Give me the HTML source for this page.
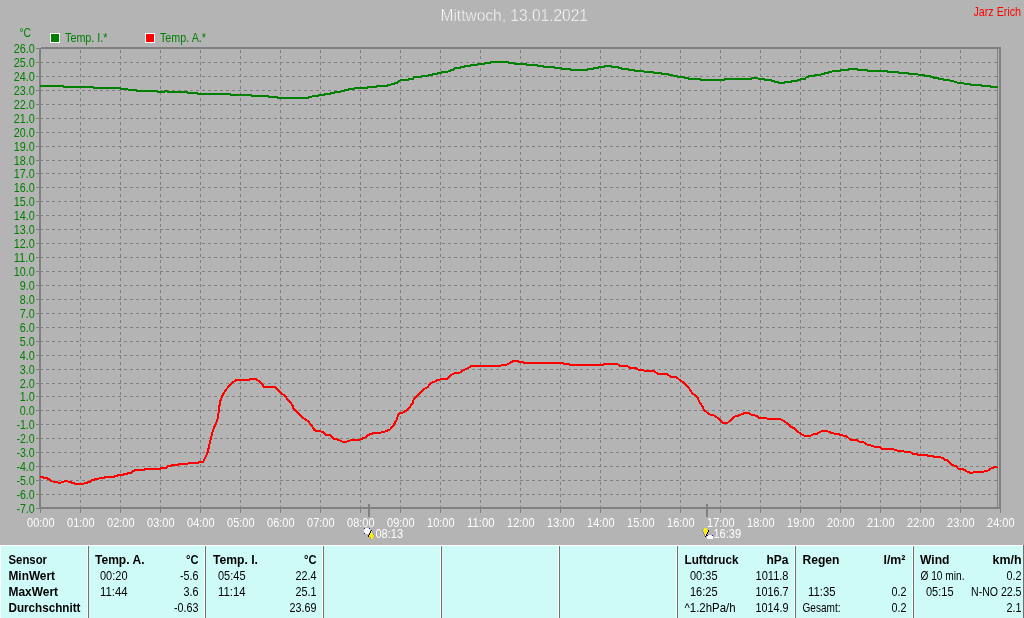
<!DOCTYPE html>
<html lang="de"><head><meta charset="utf-8"><title>Mittwoch, 13.01.2021</title>
<style>
html,body{margin:0;padding:0;background:#b4b4b4;overflow:hidden}
svg{display:block;position:absolute;left:0;top:0}
text{font-family:"Liberation Sans",Arial,sans-serif;font-size:13px}
.b{font-weight:bold}
.g{fill:#008000}.w{fill:#fff}.k{fill:#000}.r{fill:#ff0000}
</style></head><body>
<svg width="1024" height="618" viewBox="0 0 1024 618">
<rect x="0" y="0" width="1024" height="618" fill="#b4b4b4"/>
<g shape-rendering="crispEdges" stroke="#808080" stroke-width="1" fill="none">
<line x1="40" y1="62.5" x2="997" y2="62.5" stroke-dasharray="3 3"/>
<line x1="40" y1="76.5" x2="997" y2="76.5" stroke-dasharray="3 3"/>
<line x1="40" y1="90.5" x2="997" y2="90.5" stroke-dasharray="3 3"/>
<line x1="40" y1="104.5" x2="997" y2="104.5" stroke-dasharray="3 3"/>
<line x1="40" y1="118.5" x2="997" y2="118.5" stroke-dasharray="3 3"/>
<line x1="40" y1="132.5" x2="997" y2="132.5" stroke-dasharray="3 3"/>
<line x1="40" y1="146.5" x2="997" y2="146.5" stroke-dasharray="3 3"/>
<line x1="40" y1="160.5" x2="997" y2="160.5" stroke-dasharray="3 3"/>
<line x1="40" y1="173.5" x2="997" y2="173.5" stroke-dasharray="3 3"/>
<line x1="40" y1="187.5" x2="997" y2="187.5" stroke-dasharray="3 3"/>
<line x1="40" y1="201.5" x2="997" y2="201.5" stroke-dasharray="3 3"/>
<line x1="40" y1="215.5" x2="997" y2="215.5" stroke-dasharray="3 3"/>
<line x1="40" y1="229.5" x2="997" y2="229.5" stroke-dasharray="3 3"/>
<line x1="40" y1="243.5" x2="997" y2="243.5" stroke-dasharray="3 3"/>
<line x1="40" y1="257.5" x2="997" y2="257.5" stroke-dasharray="3 3"/>
<line x1="40" y1="271.5" x2="997" y2="271.5" stroke-dasharray="3 3"/>
<line x1="40" y1="285.5" x2="997" y2="285.5" stroke-dasharray="3 3"/>
<line x1="40" y1="299.5" x2="997" y2="299.5" stroke-dasharray="3 3"/>
<line x1="40" y1="313.5" x2="997" y2="313.5" stroke-dasharray="3 3"/>
<line x1="40" y1="327.5" x2="997" y2="327.5" stroke-dasharray="3 3"/>
<line x1="40" y1="341.5" x2="997" y2="341.5" stroke-dasharray="3 3"/>
<line x1="40" y1="355.5" x2="997" y2="355.5" stroke-dasharray="3 3"/>
<line x1="40" y1="369.5" x2="997" y2="369.5" stroke-dasharray="3 3"/>
<line x1="40" y1="383.5" x2="997" y2="383.5" stroke-dasharray="3 3"/>
<line x1="40" y1="396.5" x2="997" y2="396.5" stroke-dasharray="3 3"/>
<line x1="40" y1="410.5" x2="997" y2="410.5" stroke-dasharray="3 3"/>
<line x1="40" y1="424.5" x2="997" y2="424.5" stroke-dasharray="3 3"/>
<line x1="40" y1="438.5" x2="997" y2="438.5" stroke-dasharray="3 3"/>
<line x1="40" y1="452.5" x2="997" y2="452.5" stroke-dasharray="3 3"/>
<line x1="40" y1="466.5" x2="997" y2="466.5" stroke-dasharray="3 3"/>
<line x1="40" y1="480.5" x2="997" y2="480.5" stroke-dasharray="3 3"/>
<line x1="40" y1="494.5" x2="997" y2="494.5" stroke-dasharray="3 3"/>
<line x1="80.5" y1="50" x2="80.5" y2="507" stroke-dasharray="3 3"/>
<line x1="120.5" y1="50" x2="120.5" y2="507" stroke-dasharray="3 3"/>
<line x1="160.5" y1="50" x2="160.5" y2="507" stroke-dasharray="3 3"/>
<line x1="200.5" y1="50" x2="200.5" y2="507" stroke-dasharray="3 3"/>
<line x1="240.5" y1="50" x2="240.5" y2="507" stroke-dasharray="3 3"/>
<line x1="280.5" y1="50" x2="280.5" y2="507" stroke-dasharray="3 3"/>
<line x1="320.5" y1="50" x2="320.5" y2="507" stroke-dasharray="3 3"/>
<line x1="360.5" y1="50" x2="360.5" y2="507" stroke-dasharray="3 3"/>
<line x1="400.5" y1="50" x2="400.5" y2="507" stroke-dasharray="3 3"/>
<line x1="440.5" y1="50" x2="440.5" y2="507" stroke-dasharray="3 3"/>
<line x1="480.5" y1="50" x2="480.5" y2="507" stroke-dasharray="3 3"/>
<line x1="520.5" y1="50" x2="520.5" y2="507" stroke-dasharray="3 3"/>
<line x1="560.5" y1="50" x2="560.5" y2="507" stroke-dasharray="3 3"/>
<line x1="600.5" y1="50" x2="600.5" y2="507" stroke-dasharray="3 3"/>
<line x1="640.5" y1="50" x2="640.5" y2="507" stroke-dasharray="3 3"/>
<line x1="680.5" y1="50" x2="680.5" y2="507" stroke-dasharray="3 3"/>
<line x1="720.5" y1="50" x2="720.5" y2="507" stroke-dasharray="3 3"/>
<line x1="760.5" y1="50" x2="760.5" y2="507" stroke-dasharray="3 3"/>
<line x1="800.5" y1="50" x2="800.5" y2="507" stroke-dasharray="3 3"/>
<line x1="840.5" y1="50" x2="840.5" y2="507" stroke-dasharray="3 3"/>
<line x1="880.5" y1="50" x2="880.5" y2="507" stroke-dasharray="3 3"/>
<line x1="920.5" y1="50" x2="920.5" y2="507" stroke-dasharray="3 3"/>
<line x1="960.5" y1="50" x2="960.5" y2="507" stroke-dasharray="3 3"/>
<line x1="36" y1="48.5" x2="40" y2="48.5"/>
<line x1="36" y1="62.5" x2="40" y2="62.5"/>
<line x1="36" y1="76.5" x2="40" y2="76.5"/>
<line x1="36" y1="90.5" x2="40" y2="90.5"/>
<line x1="36" y1="104.5" x2="40" y2="104.5"/>
<line x1="36" y1="118.5" x2="40" y2="118.5"/>
<line x1="36" y1="132.5" x2="40" y2="132.5"/>
<line x1="36" y1="146.5" x2="40" y2="146.5"/>
<line x1="36" y1="160.5" x2="40" y2="160.5"/>
<line x1="36" y1="173.5" x2="40" y2="173.5"/>
<line x1="36" y1="187.5" x2="40" y2="187.5"/>
<line x1="36" y1="201.5" x2="40" y2="201.5"/>
<line x1="36" y1="215.5" x2="40" y2="215.5"/>
<line x1="36" y1="229.5" x2="40" y2="229.5"/>
<line x1="36" y1="243.5" x2="40" y2="243.5"/>
<line x1="36" y1="257.5" x2="40" y2="257.5"/>
<line x1="36" y1="271.5" x2="40" y2="271.5"/>
<line x1="36" y1="285.5" x2="40" y2="285.5"/>
<line x1="36" y1="299.5" x2="40" y2="299.5"/>
<line x1="36" y1="313.5" x2="40" y2="313.5"/>
<line x1="36" y1="327.5" x2="40" y2="327.5"/>
<line x1="36" y1="341.5" x2="40" y2="341.5"/>
<line x1="36" y1="355.5" x2="40" y2="355.5"/>
<line x1="36" y1="369.5" x2="40" y2="369.5"/>
<line x1="36" y1="383.5" x2="40" y2="383.5"/>
<line x1="36" y1="396.5" x2="40" y2="396.5"/>
<line x1="36" y1="410.5" x2="40" y2="410.5"/>
<line x1="36" y1="424.5" x2="40" y2="424.5"/>
<line x1="36" y1="438.5" x2="40" y2="438.5"/>
<line x1="36" y1="452.5" x2="40" y2="452.5"/>
<line x1="36" y1="466.5" x2="40" y2="466.5"/>
<line x1="36" y1="480.5" x2="40" y2="480.5"/>
<line x1="36" y1="494.5" x2="40" y2="494.5"/>
<line x1="36" y1="508.5" x2="40" y2="508.5"/>
<line x1="40.5" y1="508" x2="40.5" y2="513"/>
<line x1="80.5" y1="508" x2="80.5" y2="513"/>
<line x1="120.5" y1="508" x2="120.5" y2="513"/>
<line x1="160.5" y1="508" x2="160.5" y2="513"/>
<line x1="200.5" y1="508" x2="200.5" y2="513"/>
<line x1="240.5" y1="508" x2="240.5" y2="513"/>
<line x1="280.5" y1="508" x2="280.5" y2="513"/>
<line x1="320.5" y1="508" x2="320.5" y2="513"/>
<line x1="360.5" y1="508" x2="360.5" y2="513"/>
<line x1="400.5" y1="508" x2="400.5" y2="513"/>
<line x1="440.5" y1="508" x2="440.5" y2="513"/>
<line x1="480.5" y1="508" x2="480.5" y2="513"/>
<line x1="520.5" y1="508" x2="520.5" y2="513"/>
<line x1="560.5" y1="508" x2="560.5" y2="513"/>
<line x1="600.5" y1="508" x2="600.5" y2="513"/>
<line x1="640.5" y1="508" x2="640.5" y2="513"/>
<line x1="680.5" y1="508" x2="680.5" y2="513"/>
<line x1="720.5" y1="508" x2="720.5" y2="513"/>
<line x1="760.5" y1="508" x2="760.5" y2="513"/>
<line x1="800.5" y1="508" x2="800.5" y2="513"/>
<line x1="840.5" y1="508" x2="840.5" y2="513"/>
<line x1="880.5" y1="508" x2="880.5" y2="513"/>
<line x1="920.5" y1="508" x2="920.5" y2="513"/>
<line x1="960.5" y1="508" x2="960.5" y2="513"/>
<line x1="1000.5" y1="508" x2="1000.5" y2="513"/>
<line x1="997.5" y1="49" x2="997.5" y2="507"/>
</g>
<g shape-rendering="crispEdges" fill="#808080">
<rect x="39" y="48" width="2" height="461"/>
<rect x="41" y="47" width="960" height="2"/>
<rect x="39" y="507" width="962" height="2"/>
<rect x="999" y="47" width="2" height="462"/>
<rect x="368" y="504" width="2" height="13"/>
<rect x="706" y="504" width="2" height="13"/>
</g>
<polyline shape-rendering="crispEdges" fill="none" stroke="#008000" stroke-width="2" stroke-linejoin="round" points="40.0,86.0 63.0,86.0 64.0,87.0 93.0,87.0 94.0,87.8 120.0,87.8 121.0,88.7 127.0,88.7 128.0,89.6 136.0,89.6 137.0,90.9 157.0,90.9 158.0,91.8 164.0,91.8 165.0,91.0 167.0,91.0 168.0,91.8 187.0,91.8 188.0,92.8 197.0,92.8 198.0,93.8 229.7,93.8 230.7,94.9 250.8,94.9 251.8,95.9 268.0,95.9 269.0,96.8 276.6,96.8 277.6,97.9 307.8,97.9 308.8,96.8 311.7,96.8 312.7,95.9 318.0,95.9 319.0,94.9 324.2,94.9 325.2,94.0 329.7,94.0 330.7,92.9 334.4,92.9 335.4,92.0 340.6,92.0 341.6,90.9 344.5,90.9 345.5,89.9 348.4,89.9 349.4,89.0 353.9,89.0 354.9,87.9 367.0,87.9 368.0,87.0 376.4,87.0 377.4,86.0 387.3,86.0 388.3,85.0 390.5,85.0 391.5,84.0 393.6,84.0 394.6,83.0 396.7,83.0 397.9,82.0 399.5,81.0 400.8,80.0 408.4,80.0 409.4,79.0 413.0,79.0 414.0,77.1 421.0,77.1 422.0,76.0 428.0,76.0 429.0,75.0 432.0,75.0 433.0,74.0 436.6,74.0 437.6,73.0 441.0,73.0 442.0,72.0 447.5,72.0 448.5,71.0 450.6,71.0 451.6,69.6 453.8,69.6 454.8,68.0 460.0,68.0 461.0,67.1 464.0,67.1 465.0,66.0 470.0,66.0 471.0,65.0 477.0,65.0 478.0,64.0 484.0,64.0 485.0,63.0 490.5,63.0 491.5,61.9 507.7,61.9 508.7,63.0 514.0,63.0 515.0,64.0 526.0,64.0 527.0,65.0 537.0,65.0 538.0,65.9 542.7,65.9 543.7,67.0 553.6,67.0 554.6,67.9 560.6,67.9 561.6,68.8 570.0,68.8 571.0,69.9 587.0,69.9 588.0,69.0 593.4,69.0 594.4,67.9 598.0,67.9 599.0,67.0 604.4,67.0 605.4,65.9 610.6,65.9 611.6,66.8 617.7,66.8 618.7,67.9 620.8,67.9 621.8,68.8 627.8,68.8 628.8,69.9 634.0,69.9 635.0,70.9 643.4,70.9 644.4,72.0 652.8,72.0 653.8,72.9 660.6,72.9 661.6,73.8 667.7,73.8 668.7,74.8 672.3,74.8 673.3,75.7 677.0,75.7 678.0,77.0 684.0,77.0 685.0,77.9 687.8,77.9 688.8,78.8 699.5,78.8 700.5,79.9 723.8,79.9 724.8,78.8 751.0,78.8 752.0,77.8 757.3,77.8 758.3,78.8 763.6,78.8 764.6,79.8 770.6,79.8 771.6,80.9 773.8,80.9 774.8,82.0 777.7,82.0 778.7,82.9 784.0,82.9 785.0,82.0 791.0,82.0 792.0,80.9 797.0,80.9 798.0,79.9 800.3,79.9 801.3,78.8 805.0,78.8 806.0,77.4 808.0,77.4 809.0,75.9 814.4,75.9 815.4,74.9 820.6,74.9 821.6,73.8 823.8,73.8 824.8,72.9 827.7,72.9 828.7,72.0 831.6,72.0 832.6,70.9 840.0,70.9 841.0,69.9 847.8,69.9 848.8,69.0 857.2,69.0 858.2,69.9 867.3,69.9 868.3,70.9 886.9,70.9 887.9,71.8 897.8,71.8 898.8,72.9 908.0,72.9 909.0,73.8 917.3,73.8 918.3,74.8 923.6,74.8 924.6,75.9 929.8,75.9 930.8,76.8 933.0,76.8 934.0,77.9 937.7,77.9 938.7,78.8 943.0,78.8 944.0,79.9 949.4,79.9 950.4,80.9 953.3,80.9 954.3,81.8 956.4,81.8 957.4,82.9 963.4,82.9 964.4,83.8 969.7,83.8 970.7,84.9 980.6,84.9 981.6,85.9 990.0,85.9 991.0,87.0 997.8,87.0"/>
<polyline shape-rendering="crispEdges" fill="none" stroke="#ff0000" stroke-width="2" stroke-linejoin="round" points="40.0,476.9 43.0,476.9 44.0,477.7 47.0,477.7 48.0,479.0 49.4,479.0 50.5,480.2 52.0,481.5 56.4,481.6 57.5,482.5 61.0,482.5 62.0,481.5 64.2,481.5 65.2,480.9 67.3,480.9 68.3,481.6 70.5,481.6 71.5,482.7 73.6,482.7 74.6,483.8 83.8,483.8 84.8,482.7 87.7,482.7 88.7,481.6 90.8,481.6 92.0,480.3 94.0,480.3 95.3,479.0 98.6,479.0 99.8,477.7 104.0,477.7 105.0,476.7 114.2,476.7 115.2,475.8 117.3,475.8 118.3,474.7 123.6,474.7 124.6,473.8 127.5,473.8 128.5,472.7 131.4,472.7 132.5,471.4 133.8,471.4 135.0,469.7 144.0,469.7 145.0,468.8 160.3,468.8 161.3,467.8 166.6,467.8 168.0,466.2 170.5,466.2 172.0,464.7 178.3,464.7 179.3,463.8 187.7,463.8 188.7,462.8 197.8,462.8 198.8,461.9 203.0,461.8 204.9,458.3 207.2,453.9 208.7,447.7 210.7,438.9 213.0,430.2 215.5,424.4 217.5,419.5 218.8,410.8 220.0,402.0 222.9,394.3 226.2,389.4 231.0,384.0 235.0,380.7 237.9,379.7 249.5,379.7 250.9,378.7 255.3,378.7 258.3,380.7 262.1,384.0 263.7,386.7 274.8,387.1 276.7,388.4 281.6,393.7 284.5,395.6 288.3,400.1 292.8,405.5 293.2,408.4 299.0,414.3 303.9,418.5 307.8,420.9 311.7,425.9 314.2,429.8 316.5,431.0 320.5,431.2 323.8,432.5 326.2,435.0 330.2,435.4 333.5,438.7 337.5,439.5 342.4,441.6 346.4,441.6 350.5,440.3 352.9,439.5 360.2,439.5 365.0,437.4 369.9,434.1 374.7,433.0 379.6,432.8 384.4,431.7 390.1,429.6 394.1,424.4 396.6,419.6 398.2,414.7 399.8,412.8 403.0,412.5 407.1,410.2 412.8,403.1 413.6,399.4 416.0,397.2 420.0,392.9 424.1,388.8 427.3,387.5 430.5,383.2 434.6,381.6 437.8,379.9 441.9,379.1 447.2,378.8 450.8,375.1 454.8,373.0 459.7,372.7 462.9,370.6 466.2,368.9 469.4,367.3 471.2,365.8 500.6,365.8 502.2,364.8 506.9,364.7 509.2,363.4 512.3,361.6 514.7,360.8 517.0,360.8 518.6,361.7 522.5,361.9 524.0,362.8 562.3,362.8 563.9,363.8 568.6,363.9 570.2,364.8 603.0,364.8 604.5,363.9 617.0,363.9 618.6,364.8 619.7,365.7 627.0,365.9 629.4,367.5 635.9,368.1 638.3,369.7 643.2,370.2 644.8,371.0 652.9,371.0 655.3,371.8 657.7,373.8 666.6,373.9 670.7,376.7 676.0,376.9 679.6,379.9 683.6,382.4 687.7,386.4 692.5,393.4 694.9,395.3 697.0,396.6 699.8,402.6 702.5,406.6 703.8,409.9 707.9,413.1 710.3,414.7 714.4,415.5 717.6,418.0 722.4,422.8 727.3,423.0 730.5,420.4 733.8,416.8 737.0,416.0 740.2,415.0 744.3,413.1 748.3,412.9 751.6,414.7 756.4,415.9 758.9,417.6 766.2,418.1 767.8,419.1 780.0,419.1 783.4,420.6 787.3,423.4 791.2,426.9 795.2,428.9 798.3,432.0 802.2,434.7 805.3,435.9 810.0,435.9 813.1,434.4 817.0,433.8 820.2,431.7 823.3,430.9 827.2,431.1 831.1,432.8 835.0,433.8 838.9,434.1 841.2,435.3 845.9,435.9 850.6,439.7 856.9,439.8 859.2,441.7 863.1,441.9 866.2,444.2 870.2,445.3 874.0,446.6 879.5,446.9 881.9,448.8 892.8,449.1 897.5,450.6 903.6,451.1 904.6,451.9 910.2,452.0 912.7,453.9 916.8,454.1 918.3,454.9 926.9,455.0 928.4,455.9 932.5,456.1 934.0,456.9 940.1,457.0 941.6,457.9 943.2,458.1 945.2,460.0 947.2,460.2 949.8,462.7 952.3,465.2 955.9,465.9 957.9,468.6 963.0,468.9 966.0,471.1 970.1,472.7 972.6,472.7 974.6,471.8 983.3,471.7 985.3,470.9 987.9,470.6 989.4,469.6 991.9,468.1 994.5,467.1 997.5,467.0"/>
<text x="440.5" y="21.0" class="w" textLength="147.5" lengthAdjust="spacingAndGlyphs" style="font-size:17px" stroke="#b4b4b4" stroke-width="0.45">Mittwoch, 13.01.2021</text>
<text x="973.5" y="16.0" class="r" textLength="47.5" lengthAdjust="spacingAndGlyphs">Jarz Erich</text>
<text x="19.5" y="37.0" class="g" textLength="11.5" lengthAdjust="spacingAndGlyphs">°C</text>
<g shape-rendering="crispEdges">
<rect x="50" y="33" width="10" height="10" fill="#fff"/><rect x="51" y="34" width="8" height="8" fill="#008000"/>
<rect x="145" y="33" width="10" height="10" fill="#fff"/><rect x="146" y="34" width="8" height="8" fill="#ff0000"/>
</g>
<text x="65.0" y="42.0" class="g" textLength="42.5" lengthAdjust="spacingAndGlyphs">Temp. I.*</text>
<text x="160.0" y="42.0" class="g" textLength="46.0" lengthAdjust="spacingAndGlyphs">Temp. A.*</text>
<text x="34.7" y="53.0" class="g" text-anchor="end" textLength="21.0" lengthAdjust="spacingAndGlyphs">26.0</text>
<text x="34.7" y="67.0" class="g" text-anchor="end" textLength="21.0" lengthAdjust="spacingAndGlyphs">25.0</text>
<text x="34.7" y="81.0" class="g" text-anchor="end" textLength="21.0" lengthAdjust="spacingAndGlyphs">24.0</text>
<text x="34.7" y="95.0" class="g" text-anchor="end" textLength="21.0" lengthAdjust="spacingAndGlyphs">23.0</text>
<text x="34.7" y="109.0" class="g" text-anchor="end" textLength="21.0" lengthAdjust="spacingAndGlyphs">22.0</text>
<text x="34.7" y="123.0" class="g" text-anchor="end" textLength="21.0" lengthAdjust="spacingAndGlyphs">21.0</text>
<text x="34.7" y="137.0" class="g" text-anchor="end" textLength="21.0" lengthAdjust="spacingAndGlyphs">20.0</text>
<text x="34.7" y="151.0" class="g" text-anchor="end" textLength="21.0" lengthAdjust="spacingAndGlyphs">19.0</text>
<text x="34.7" y="165.0" class="g" text-anchor="end" textLength="21.0" lengthAdjust="spacingAndGlyphs">18.0</text>
<text x="34.7" y="178.0" class="g" text-anchor="end" textLength="21.0" lengthAdjust="spacingAndGlyphs">17.0</text>
<text x="34.7" y="192.0" class="g" text-anchor="end" textLength="21.0" lengthAdjust="spacingAndGlyphs">16.0</text>
<text x="34.7" y="206.0" class="g" text-anchor="end" textLength="21.0" lengthAdjust="spacingAndGlyphs">15.0</text>
<text x="34.7" y="220.0" class="g" text-anchor="end" textLength="21.0" lengthAdjust="spacingAndGlyphs">14.0</text>
<text x="34.7" y="234.0" class="g" text-anchor="end" textLength="21.0" lengthAdjust="spacingAndGlyphs">13.0</text>
<text x="34.7" y="248.0" class="g" text-anchor="end" textLength="21.0" lengthAdjust="spacingAndGlyphs">12.0</text>
<text x="34.7" y="262.0" class="g" text-anchor="end" textLength="21.0" lengthAdjust="spacingAndGlyphs">11.0</text>
<text x="34.7" y="276.0" class="g" text-anchor="end" textLength="21.0" lengthAdjust="spacingAndGlyphs">10.0</text>
<text x="34.7" y="290.0" class="g" text-anchor="end" textLength="15.0" lengthAdjust="spacingAndGlyphs">9.0</text>
<text x="34.7" y="304.0" class="g" text-anchor="end" textLength="15.0" lengthAdjust="spacingAndGlyphs">8.0</text>
<text x="34.7" y="318.0" class="g" text-anchor="end" textLength="15.0" lengthAdjust="spacingAndGlyphs">7.0</text>
<text x="34.7" y="332.0" class="g" text-anchor="end" textLength="15.0" lengthAdjust="spacingAndGlyphs">6.0</text>
<text x="34.7" y="346.0" class="g" text-anchor="end" textLength="15.0" lengthAdjust="spacingAndGlyphs">5.0</text>
<text x="34.7" y="360.0" class="g" text-anchor="end" textLength="15.0" lengthAdjust="spacingAndGlyphs">4.0</text>
<text x="34.7" y="374.0" class="g" text-anchor="end" textLength="15.0" lengthAdjust="spacingAndGlyphs">3.0</text>
<text x="34.7" y="388.0" class="g" text-anchor="end" textLength="15.0" lengthAdjust="spacingAndGlyphs">2.0</text>
<text x="34.7" y="401.0" class="g" text-anchor="end" textLength="15.0" lengthAdjust="spacingAndGlyphs">1.0</text>
<text x="34.7" y="415.0" class="g" text-anchor="end" textLength="15.0" lengthAdjust="spacingAndGlyphs">0.0</text>
<text x="34.7" y="429.0" class="g" text-anchor="end" textLength="18.3" lengthAdjust="spacingAndGlyphs">-1.0</text>
<text x="34.7" y="443.0" class="g" text-anchor="end" textLength="18.3" lengthAdjust="spacingAndGlyphs">-2.0</text>
<text x="34.7" y="457.0" class="g" text-anchor="end" textLength="18.3" lengthAdjust="spacingAndGlyphs">-3.0</text>
<text x="34.7" y="471.0" class="g" text-anchor="end" textLength="18.3" lengthAdjust="spacingAndGlyphs">-4.0</text>
<text x="34.7" y="485.0" class="g" text-anchor="end" textLength="18.3" lengthAdjust="spacingAndGlyphs">-5.0</text>
<text x="34.7" y="499.0" class="g" text-anchor="end" textLength="18.3" lengthAdjust="spacingAndGlyphs">-6.0</text>
<text x="34.7" y="513.0" class="g" text-anchor="end" textLength="18.3" lengthAdjust="spacingAndGlyphs">-7.0</text>
<text x="40.8" y="527.0" class="w" text-anchor="middle" textLength="27.5" lengthAdjust="spacingAndGlyphs">00:00</text>
<text x="80.8" y="527.0" class="w" text-anchor="middle" textLength="27.5" lengthAdjust="spacingAndGlyphs">01:00</text>
<text x="120.8" y="527.0" class="w" text-anchor="middle" textLength="27.5" lengthAdjust="spacingAndGlyphs">02:00</text>
<text x="160.8" y="527.0" class="w" text-anchor="middle" textLength="27.5" lengthAdjust="spacingAndGlyphs">03:00</text>
<text x="200.8" y="527.0" class="w" text-anchor="middle" textLength="27.5" lengthAdjust="spacingAndGlyphs">04:00</text>
<text x="240.8" y="527.0" class="w" text-anchor="middle" textLength="27.5" lengthAdjust="spacingAndGlyphs">05:00</text>
<text x="280.8" y="527.0" class="w" text-anchor="middle" textLength="27.5" lengthAdjust="spacingAndGlyphs">06:00</text>
<text x="320.8" y="527.0" class="w" text-anchor="middle" textLength="27.5" lengthAdjust="spacingAndGlyphs">07:00</text>
<text x="360.8" y="527.0" class="w" text-anchor="middle" textLength="27.5" lengthAdjust="spacingAndGlyphs">08:00</text>
<text x="400.8" y="527.0" class="w" text-anchor="middle" textLength="27.5" lengthAdjust="spacingAndGlyphs">09:00</text>
<text x="440.8" y="527.0" class="w" text-anchor="middle" textLength="27.5" lengthAdjust="spacingAndGlyphs">10:00</text>
<text x="480.8" y="527.0" class="w" text-anchor="middle" textLength="27.5" lengthAdjust="spacingAndGlyphs">11:00</text>
<text x="520.8" y="527.0" class="w" text-anchor="middle" textLength="27.5" lengthAdjust="spacingAndGlyphs">12:00</text>
<text x="560.8" y="527.0" class="w" text-anchor="middle" textLength="27.5" lengthAdjust="spacingAndGlyphs">13:00</text>
<text x="600.8" y="527.0" class="w" text-anchor="middle" textLength="27.5" lengthAdjust="spacingAndGlyphs">14:00</text>
<text x="640.8" y="527.0" class="w" text-anchor="middle" textLength="27.5" lengthAdjust="spacingAndGlyphs">15:00</text>
<text x="680.8" y="527.0" class="w" text-anchor="middle" textLength="27.5" lengthAdjust="spacingAndGlyphs">16:00</text>
<text x="720.8" y="527.0" class="w" text-anchor="middle" textLength="27.5" lengthAdjust="spacingAndGlyphs">17:00</text>
<text x="760.8" y="527.0" class="w" text-anchor="middle" textLength="27.5" lengthAdjust="spacingAndGlyphs">18:00</text>
<text x="800.8" y="527.0" class="w" text-anchor="middle" textLength="27.5" lengthAdjust="spacingAndGlyphs">19:00</text>
<text x="840.8" y="527.0" class="w" text-anchor="middle" textLength="27.5" lengthAdjust="spacingAndGlyphs">20:00</text>
<text x="880.8" y="527.0" class="w" text-anchor="middle" textLength="27.5" lengthAdjust="spacingAndGlyphs">21:00</text>
<text x="920.8" y="527.0" class="w" text-anchor="middle" textLength="27.5" lengthAdjust="spacingAndGlyphs">22:00</text>
<text x="960.8" y="527.0" class="w" text-anchor="middle" textLength="27.5" lengthAdjust="spacingAndGlyphs">23:00</text>
<text x="1000.8" y="527.0" class="w" text-anchor="middle" textLength="27.5" lengthAdjust="spacingAndGlyphs">24:00</text>
<text x="375.5" y="538.0" class="w" textLength="27.5" lengthAdjust="spacingAndGlyphs">08:13</text>
<text x="713.5" y="538.0" class="w" textLength="27.5" lengthAdjust="spacingAndGlyphs">16:39</text>
<g shape-rendering="crispEdges">
<rect x="364" y="528" width="6" height="6" fill="#2828a8"/><rect x="365" y="528" width="4" height="6" fill="#e0e0fa"/><rect x="364" y="529" width="6" height="4" fill="#e0e0fa"/><rect x="365" y="529" width="4" height="4" fill="#fff"/><rect x="366" y="528" width="2" height="6" fill="#fff"/><rect x="364" y="530" width="6" height="2" fill="#fff"/>
<path d="M371 531h1v2h1v2h1v2h-1v2h-3v-2h-1v-2h1v-2h1z" fill="#ffee00"/>
<path d="M371 530h1v1h-1zM370 531h1v2h-1zM369 533h1v2h-1zM368 535h1v2h-1z" fill="#000"/>
<path d="M372 531h1v2h-1zM373 533h1v2h-1zM374 535h1v2h-1z" fill="#9090e0"/><rect x="370" y="537" width="1" height="2" fill="#c0b000"/>
<path d="M704 528h3v2h2v2h-1v2h-1v2h-1v1h-1v-1h-1v-2h-1v-2h-1v-2h2z" fill="#ffee00"/>
<path d="M708 530h1v2h-1zM707 532h1v2h-1zM706 534h1v2h-1zM705 536h1v1h-1z" fill="#000"/>
<path d="M702 530h1v2h-1zM703 532h1v2h-1zM704 534h1v2h-1z" fill="#8080e0"/>
<rect x="707" y="535" width="6" height="4" fill="#2828a8"/><rect x="708" y="535" width="4" height="4" fill="#d8d8f8"/><rect x="709" y="535" width="2" height="4" fill="#fff"/><rect x="707" y="536" width="6" height="3" fill="#fff"/>
</g>
<g shape-rendering="crispEdges">
<rect x="0" y="545" width="1024" height="73" fill="#fff"/>
<rect x="1" y="546" width="1022" height="72" fill="#cefaf7"/>
<rect x="1023" y="545" width="1" height="73" fill="#707070"/>
<rect x="88" y="546" width="1" height="72" fill="#707070"/>
<rect x="87" y="546" width="1" height="72" fill="#ffffff"/>
<rect x="205" y="546" width="1" height="72" fill="#707070"/>
<rect x="204" y="546" width="1" height="72" fill="#ffffff"/>
<rect x="323" y="546" width="1" height="72" fill="#707070"/>
<rect x="322" y="546" width="1" height="72" fill="#ffffff"/>
<rect x="441" y="546" width="1" height="72" fill="#707070"/>
<rect x="440" y="546" width="1" height="72" fill="#ffffff"/>
<rect x="559" y="546" width="1" height="72" fill="#707070"/>
<rect x="558" y="546" width="1" height="72" fill="#ffffff"/>
<rect x="677" y="546" width="1" height="72" fill="#707070"/>
<rect x="676" y="546" width="1" height="72" fill="#ffffff"/>
<rect x="795" y="546" width="1" height="72" fill="#707070"/>
<rect x="794" y="546" width="1" height="72" fill="#ffffff"/>
<rect x="913" y="546" width="1" height="72" fill="#707070"/>
<rect x="912" y="546" width="1" height="72" fill="#ffffff"/>
</g>
<text x="8.5" y="564.0" class="k b" textLength="38.5" lengthAdjust="spacingAndGlyphs">Sensor</text>
<text x="8.5" y="580.0" class="k b" textLength="46.5" lengthAdjust="spacingAndGlyphs">MinWert</text>
<text x="8.5" y="596.0" class="k b" textLength="49.5" lengthAdjust="spacingAndGlyphs">MaxWert</text>
<text x="8.5" y="612.0" class="k b" textLength="72.0" lengthAdjust="spacingAndGlyphs">Durchschnitt</text>
<text x="95.0" y="564.0" class="k b" textLength="49.5" lengthAdjust="spacingAndGlyphs">Temp. A.</text>
<text x="198.5" y="564.0" class="k b" text-anchor="end" textLength="12.5" lengthAdjust="spacingAndGlyphs">°C</text>
<text x="100.0" y="580.0" class="k" textLength="27.5" lengthAdjust="spacingAndGlyphs">00:20</text>
<text x="198.5" y="580.0" class="k" text-anchor="end" textLength="18.5" lengthAdjust="spacingAndGlyphs">-5.6</text>
<text x="100.0" y="596.0" class="k" textLength="27.5" lengthAdjust="spacingAndGlyphs">11:44</text>
<text x="198.5" y="596.0" class="k" text-anchor="end" textLength="15.0" lengthAdjust="spacingAndGlyphs">3.6</text>
<text x="198.5" y="612.0" class="k" text-anchor="end" textLength="24.5" lengthAdjust="spacingAndGlyphs">-0.63</text>
<text x="213.0" y="564.0" class="k b" textLength="45.0" lengthAdjust="spacingAndGlyphs">Temp. I.</text>
<text x="316.5" y="564.0" class="k b" text-anchor="end" textLength="12.5" lengthAdjust="spacingAndGlyphs">°C</text>
<text x="218.0" y="580.0" class="k" textLength="27.5" lengthAdjust="spacingAndGlyphs">05:45</text>
<text x="316.5" y="580.0" class="k" text-anchor="end" textLength="21.0" lengthAdjust="spacingAndGlyphs">22.4</text>
<text x="218.0" y="596.0" class="k" textLength="27.5" lengthAdjust="spacingAndGlyphs">11:14</text>
<text x="316.5" y="596.0" class="k" text-anchor="end" textLength="21.0" lengthAdjust="spacingAndGlyphs">25.1</text>
<text x="316.5" y="612.0" class="k" text-anchor="end" textLength="27.0" lengthAdjust="spacingAndGlyphs">23.69</text>
<text x="684.5" y="564.0" class="k b" textLength="54.0" lengthAdjust="spacingAndGlyphs">Luftdruck</text>
<text x="788.5" y="564.0" class="k b" text-anchor="end" textLength="22.0" lengthAdjust="spacingAndGlyphs">hPa</text>
<text x="690.0" y="580.0" class="k" textLength="27.5" lengthAdjust="spacingAndGlyphs">00:35</text>
<text x="788.5" y="580.0" class="k" text-anchor="end" textLength="33.0" lengthAdjust="spacingAndGlyphs">1011.8</text>
<text x="690.0" y="596.0" class="k" textLength="27.5" lengthAdjust="spacingAndGlyphs">16:25</text>
<text x="788.5" y="596.0" class="k" text-anchor="end" textLength="33.0" lengthAdjust="spacingAndGlyphs">1016.7</text>
<text x="684.5" y="612.0" class="k" textLength="51.0" lengthAdjust="spacingAndGlyphs">^1.2hPa/h</text>
<text x="788.5" y="612.0" class="k" text-anchor="end" textLength="33.0" lengthAdjust="spacingAndGlyphs">1014.9</text>
<text x="802.5" y="564.0" class="k b" textLength="37.0" lengthAdjust="spacingAndGlyphs">Regen</text>
<text x="905.5" y="564.0" class="k b" text-anchor="end" textLength="22.0" lengthAdjust="spacingAndGlyphs">l/m²</text>
<text x="808.0" y="596.0" class="k" textLength="27.5" lengthAdjust="spacingAndGlyphs">11:35</text>
<text x="906.5" y="596.0" class="k" text-anchor="end" textLength="15.0" lengthAdjust="spacingAndGlyphs">0.2</text>
<text x="802.5" y="612.0" class="k" textLength="38.0" lengthAdjust="spacingAndGlyphs">Gesamt:</text>
<text x="906.5" y="612.0" class="k" text-anchor="end" textLength="15.0" lengthAdjust="spacingAndGlyphs">0.2</text>
<text x="920.0" y="564.0" class="k b" textLength="29.5" lengthAdjust="spacingAndGlyphs">Wind</text>
<text x="1021.5" y="564.0" class="k b" text-anchor="end" textLength="29.0" lengthAdjust="spacingAndGlyphs">km/h</text>
<text x="920.5" y="580.0" class="k" textLength="44.0" lengthAdjust="spacingAndGlyphs">Ø 10 min.</text>
<text x="1021.5" y="580.0" class="k" text-anchor="end" textLength="15.0" lengthAdjust="spacingAndGlyphs">0.2</text>
<text x="926.0" y="596.0" class="k" textLength="27.5" lengthAdjust="spacingAndGlyphs">05:15</text>
<text x="1021.5" y="596.0" class="k" text-anchor="end" textLength="50.5" lengthAdjust="spacingAndGlyphs">N-NO 22.5</text>
<text x="1021.5" y="612.0" class="k" text-anchor="end" textLength="15.0" lengthAdjust="spacingAndGlyphs">2.1</text>
</svg>
</body></html>
